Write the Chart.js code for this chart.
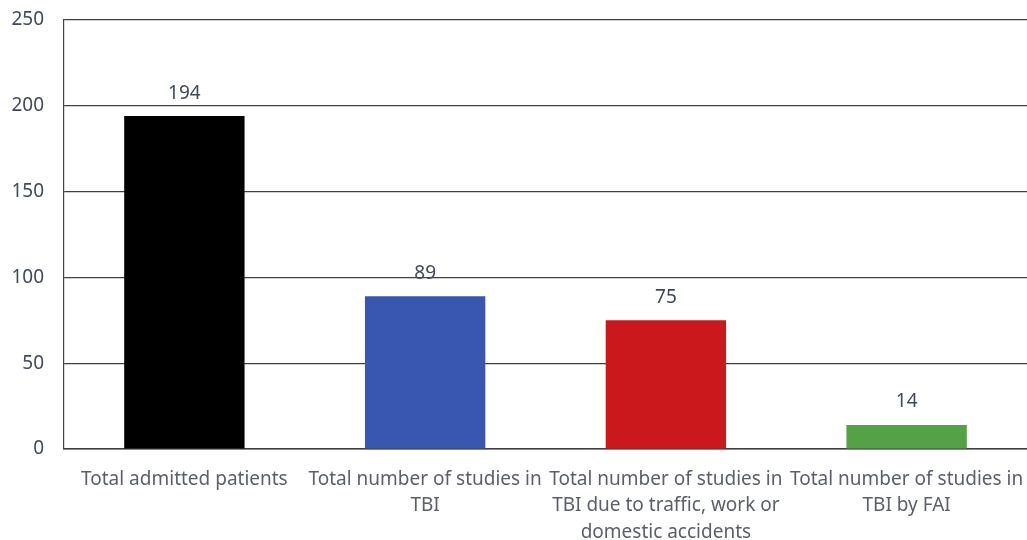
<!DOCTYPE html>
<html>
<head>
<meta charset="utf-8">
<script src="https://cdn.jsdelivr.net/npm/chart.js@4"></script>
<style>
  html, body { margin: 0; padding: 0; background: #ffffff; }
  #wrap { width: 1027px; height: 540px; }
</style>
</head>
<body>
<div id="wrap"><canvas id="myChart" width="1027" height="540"></canvas></div>
<script>
// Chart data
const categories = [
    'Total admitted patients',
    ['Total number of studies in', 'TBI'],
    ['Total number of studies in', 'TBI due to traffic, work or', 'domestic accidents'],
    ['Total number of studies in', 'TBI by FAI']
];
const counts = [194, 89, 75, 14];
const barColors = ['#000000', '#3957b0', '#cb181c', '#55a145'];
const yTicks = [0, 50, 100, 150, 200, 250];

const FONT = '"Noto Sans", sans-serif';

// Draws the value above each bar
const valueLabels = {
    id: 'valueLabels',
    afterDatasetsDraw(chart) {
        const ctx = chart.ctx;
        const meta = chart.getDatasetMeta(0);
        ctx.save();
        ctx.font = '19px ' + FONT;
        ctx.fillStyle = '#404a5c';
        ctx.textAlign = 'center';
        ctx.textBaseline = 'middle';
        meta.data.forEach((bar, i) => {
            ctx.fillText(String(counts[i]), bar.x, bar.y - 23);
        });
        ctx.restore();
    }
};

const ctx = document.getElementById('myChart').getContext('2d');
const myChart = new Chart(ctx, {
    type: 'bar',
    data: {
        labels: categories,
        datasets: [{
            data: counts,
            backgroundColor: barColors,
            borderWidth: 0,
            barPercentage: 0.5,
            categoryPercentage: 1.0
        }]
    },
    options: {
        responsive: false,
        animation: false,
        layout: { padding: { top: 20, right: 0, left: 0, bottom: 0 } },
        plugins: {
            legend: { display: false },
            tooltip: { enabled: false }
        },
        scales: {
            x: {
                grid: { display: false },
                border: { display: true, color: '#404040', width: 1.5 },
                ticks: {
                    autoSkip: false,
                    maxRotation: 0,
                    minRotation: 0,
                    color: '#5a5f6a',
                    padding: 9,
                    font: { family: FONT, size: 19, lineHeight: 1.4 }
                },
                afterFit(scale) {
                    scale.height = 91;
                    scale.paddingLeft = 0;
                    scale.paddingRight = 0;
                }
            },
            y: {
                min: 0,
                max: 250,
                afterBuildTicks(scale) {
                    scale.ticks = yTicks.map(v => ({ value: v }));
                },
                grid: { color: '#404040', lineWidth: 1.2, drawTicks: false },
                border: { display: true, color: '#404040', width: 1.2 },
                ticks: {
                    color: '#404a5c',
                    padding: 20,
                    font: { family: FONT, size: 19 }
                },
                afterFit(scale) {
                    scale.width = 64;
                    scale.paddingTop = 0;
                    scale.paddingBottom = 0;
                }
            }
        }
    },
    plugins: [valueLabels]
});
</script>
</body>
</html>
